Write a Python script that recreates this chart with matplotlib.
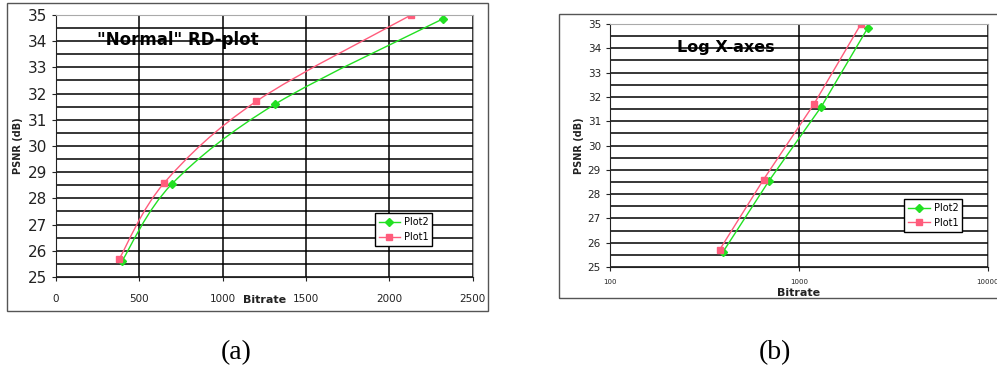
import numpy as np
import matplotlib
matplotlib.use('Agg')
from matplotlib import pyplot as plt
from matplotlib.path import Path
from matplotlib.patches import PathPatch, Rectangle
from matplotlib.lines import Line2D

# data
plot1_rate = [380, 650, 1200, 2130]
plot1_psnr = [25.7, 28.6, 31.7, 35.0]
plot2_rate = [395, 695, 1315, 2320]
plot2_psnr = [25.6, 28.55, 31.6, 34.85]

green = '#22e022'
pink = '#ff5c7c'


def smooth_path(x, y):
    """
    Excel-style smoothed line (Catmull-Rom as cubic bezier) through the points.
    """
    pts = np.column_stack([x, y]).astype(float)
    verts = [pts[0]]
    codes = [Path.MOVETO]
    n = len(pts)
    for i in range(n - 1):
        p0 = pts[max(i - 1, 0)]
        p1 = pts[i]
        p2 = pts[i + 1]
        p3 = pts[min(i + 2, n - 1)]
        verts += [p1 + (p2 - p0) / 6.0, p2 - (p3 - p1) / 6.0, p2]
        codes += [Path.CURVE4] * 3
    return Path(verts, codes)


def style_axes(ax):
    ax.set_ylim(25, 35)
    ax.set_yticks(np.arange(25, 35.5, 1))
    ax.set_yticks(np.arange(25.5, 35, 1), minor=True)
    ax.grid(True, which='major', axis='y', color='k', lw=1.1)
    ax.grid(True, which='minor', axis='y', color='k', lw=1.1)
    ax.grid(True, which='major', axis='x', color='k', lw=1.1)
    ax.tick_params(axis='y', which='minor', length=0)
    ax.tick_params(direction='out', length=3, colors='#222222')
    for s in ['top', 'right']:
        ax.spines[s].set_color('#aaaaaa')
    for s in ['left', 'bottom']:
        ax.spines[s].set_color('#222222')
    ax.set_axisbelow(True)


def add_legend(ax):
    handles = [Line2D([], [], color=green, marker='D', markersize=4, lw=1),
               Line2D([], [], color=pink, marker='s', markersize=4, lw=1)]
    leg = ax.legend(handles, ['Plot2', 'Plot1'], loc='lower right', fontsize=7,
                    fancybox=False, framealpha=1, edgecolor='k', handlelength=2.2,
                    borderpad=0.4, labelspacing=0.5, handletextpad=0.4)
    leg.get_frame().set_linewidth(1)
    return leg


fig = plt.figure(figsize=(9.97, 3.74), dpi=100)

# outer chart frames
fig.patches.append(Rectangle((0.007, 0.168), 0.482, 0.8235, transform=fig.transFigure,
                             fill=False, edgecolor='#555555', lw=1))
fig.patches.append(Rectangle((0.5607, 0.2032), 0.5, 0.759, transform=fig.transFigure,
                             fill=False, edgecolor='#555555', lw=1))

# (a) linear axes
ax1 = fig.add_axes([0.0562, 0.2594, 0.418, 0.7005])
style_axes(ax1)
ax1.set_xlim(0, 2500)
ax1.set_xticks(np.arange(0, 2501, 500))
ax1.tick_params(axis='y', labelsize=11)
ax1.tick_params(axis='x', labelsize=7.5, pad=9)
ax1.add_patch(PathPatch(smooth_path(plot2_rate, plot2_psnr), fill=False, edgecolor=green, lw=1))
ax1.add_patch(PathPatch(smooth_path(plot1_rate, plot1_psnr), fill=False, edgecolor=pink, lw=1))
ax1.plot(plot2_rate, plot2_psnr, ls='none', marker='D', markersize=4, color=green)
ax1.plot(plot1_rate, plot1_psnr, ls='none', marker='s', markersize=4.5, color=pink)
ax1.text(0.098, 0.905, '"Normal" RD-plot', transform=ax1.transAxes, fontsize=12,
         fontweight='bold', va='center', ha='left')
ax1.set_ylabel('PSNR (dB)', fontsize=7, fontweight='bold', labelpad=3, color='#222222')
ax1.set_xlabel('Bitrate', fontsize=8, fontweight='bold', color='#222222')
ax1.xaxis.set_label_coords(0.5, -0.068)
leg1 = add_legend(ax1)
leg1.set_bbox_to_anchor((0.915, 0.10), transform=ax1.transAxes)

# (b) log x axis
ax2 = fig.add_axes([0.6118, 0.2861, 0.379, 0.6497])
style_axes(ax2)
ax2.set_xscale('log')
ax2.set_xlim(100, 10000)
ax2.set_xticks([100, 1000, 10000])
ax2.set_xticklabels(['100', '1000', '10000'])
ax2.xaxis.set_minor_locator(matplotlib.ticker.NullLocator())
ax2.tick_params(axis='y', labelsize=7.5)
ax2.tick_params(axis='x', labelsize=5, pad=6)
ax2.plot(plot2_rate, plot2_psnr, marker='D', markersize=4, color=green, lw=1)
ax2.plot(plot1_rate, plot1_psnr, marker='s', markersize=4.5, color=pink, lw=1)
ax2.text(0.177, 0.905, 'Log X-axes', transform=ax2.transAxes, fontsize=11.5,
         fontweight='bold', va='center', ha='left')
ax2.set_ylabel('PSNR (dB)', fontsize=7, fontweight='bold', labelpad=3, color='#222222')
ax2.set_xlabel('Bitrate', fontsize=8, fontweight='bold', color='#222222', labelpad=2)
leg2 = add_legend(ax2)
leg2.set_bbox_to_anchor((0.945, 0.125), transform=ax2.transAxes)

# captions
fig.text(0.237, 0.058, '(a)', fontsize=20, family='Liberation Serif', ha='center', va='center')
fig.text(0.777, 0.058, '(b)', fontsize=20, family='Liberation Serif', ha='center', va='center')

plt.savefig('out.png', dpi=100)
